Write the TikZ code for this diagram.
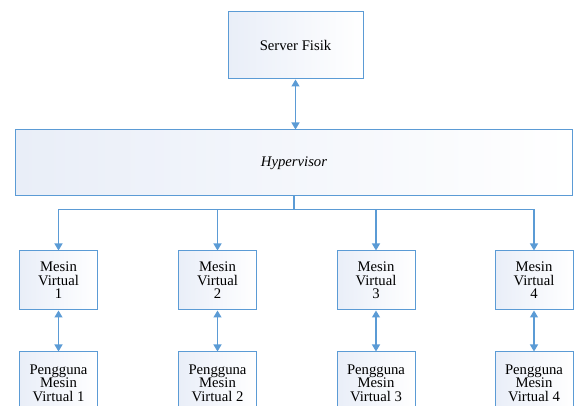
\documentclass[tikz,border=0pt]{standalone}
\usepackage{fontspec}
\setmainfont{Liberation Serif}
\usepackage{tikz}
\usetikzlibrary{arrows.meta}

\definecolor{boxline}{RGB}{91,155,213}
\definecolor{boxfill}{RGB}{233,238,248}

\tikzset{
  blok/.style={draw=boxline,line width=1pt,left color=boxfill,right color=white,
    align=center,inner sep=2pt,font=\fontsize{14.7}{13.5}\selectfont},
  panah/.style={draw=boxline,line width=1.4pt,-{Triangle[width=8pt,length=7pt]}},
  panahdua/.style={draw=boxline,line width=1.4pt,{Triangle[width=8pt,length=7pt]}-{Triangle[width=8pt,length=7pt]}}
}

\begin{document}
\begin{tikzpicture}[x=1pt,y=-1pt]
\useasboundingbox (0,0) rectangle (574,406);

%server and hypervisor
\node[blok,minimum width=135pt,minimum height=67pt] (server) at (295.5,45.5) {Server Fisik};
\node[blok,minimum width=557pt,minimum height=66pt] (hyper) at (294,163) {\textit{Hypervisor}};
\draw[panahdua] (server.south) -- (server.south |- hyper.north);

%virtual machines and their users
\draw[draw=boxline,line width=1.4pt] (hyper.south) -- ++(0,13) coordinate (bus);
\foreach \i/\xx in {1/58.5,2/217.5,3/376,4/534}{
  \node[blok,minimum width=78pt,minimum height=59pt] (vm\i) at (\xx,280.5) {Mesin\\Virtual\\\i};
  \node[blok,minimum width=78pt,minimum height=62pt] (user\i) at (\xx,383) {Pengguna\\Mesin\\Virtual \i};
  \draw[panah] (bus) -| (vm\i.north);
  \draw[panahdua] (vm\i.south) -- (user\i.north);
}

\end{tikzpicture}
\end{document}
